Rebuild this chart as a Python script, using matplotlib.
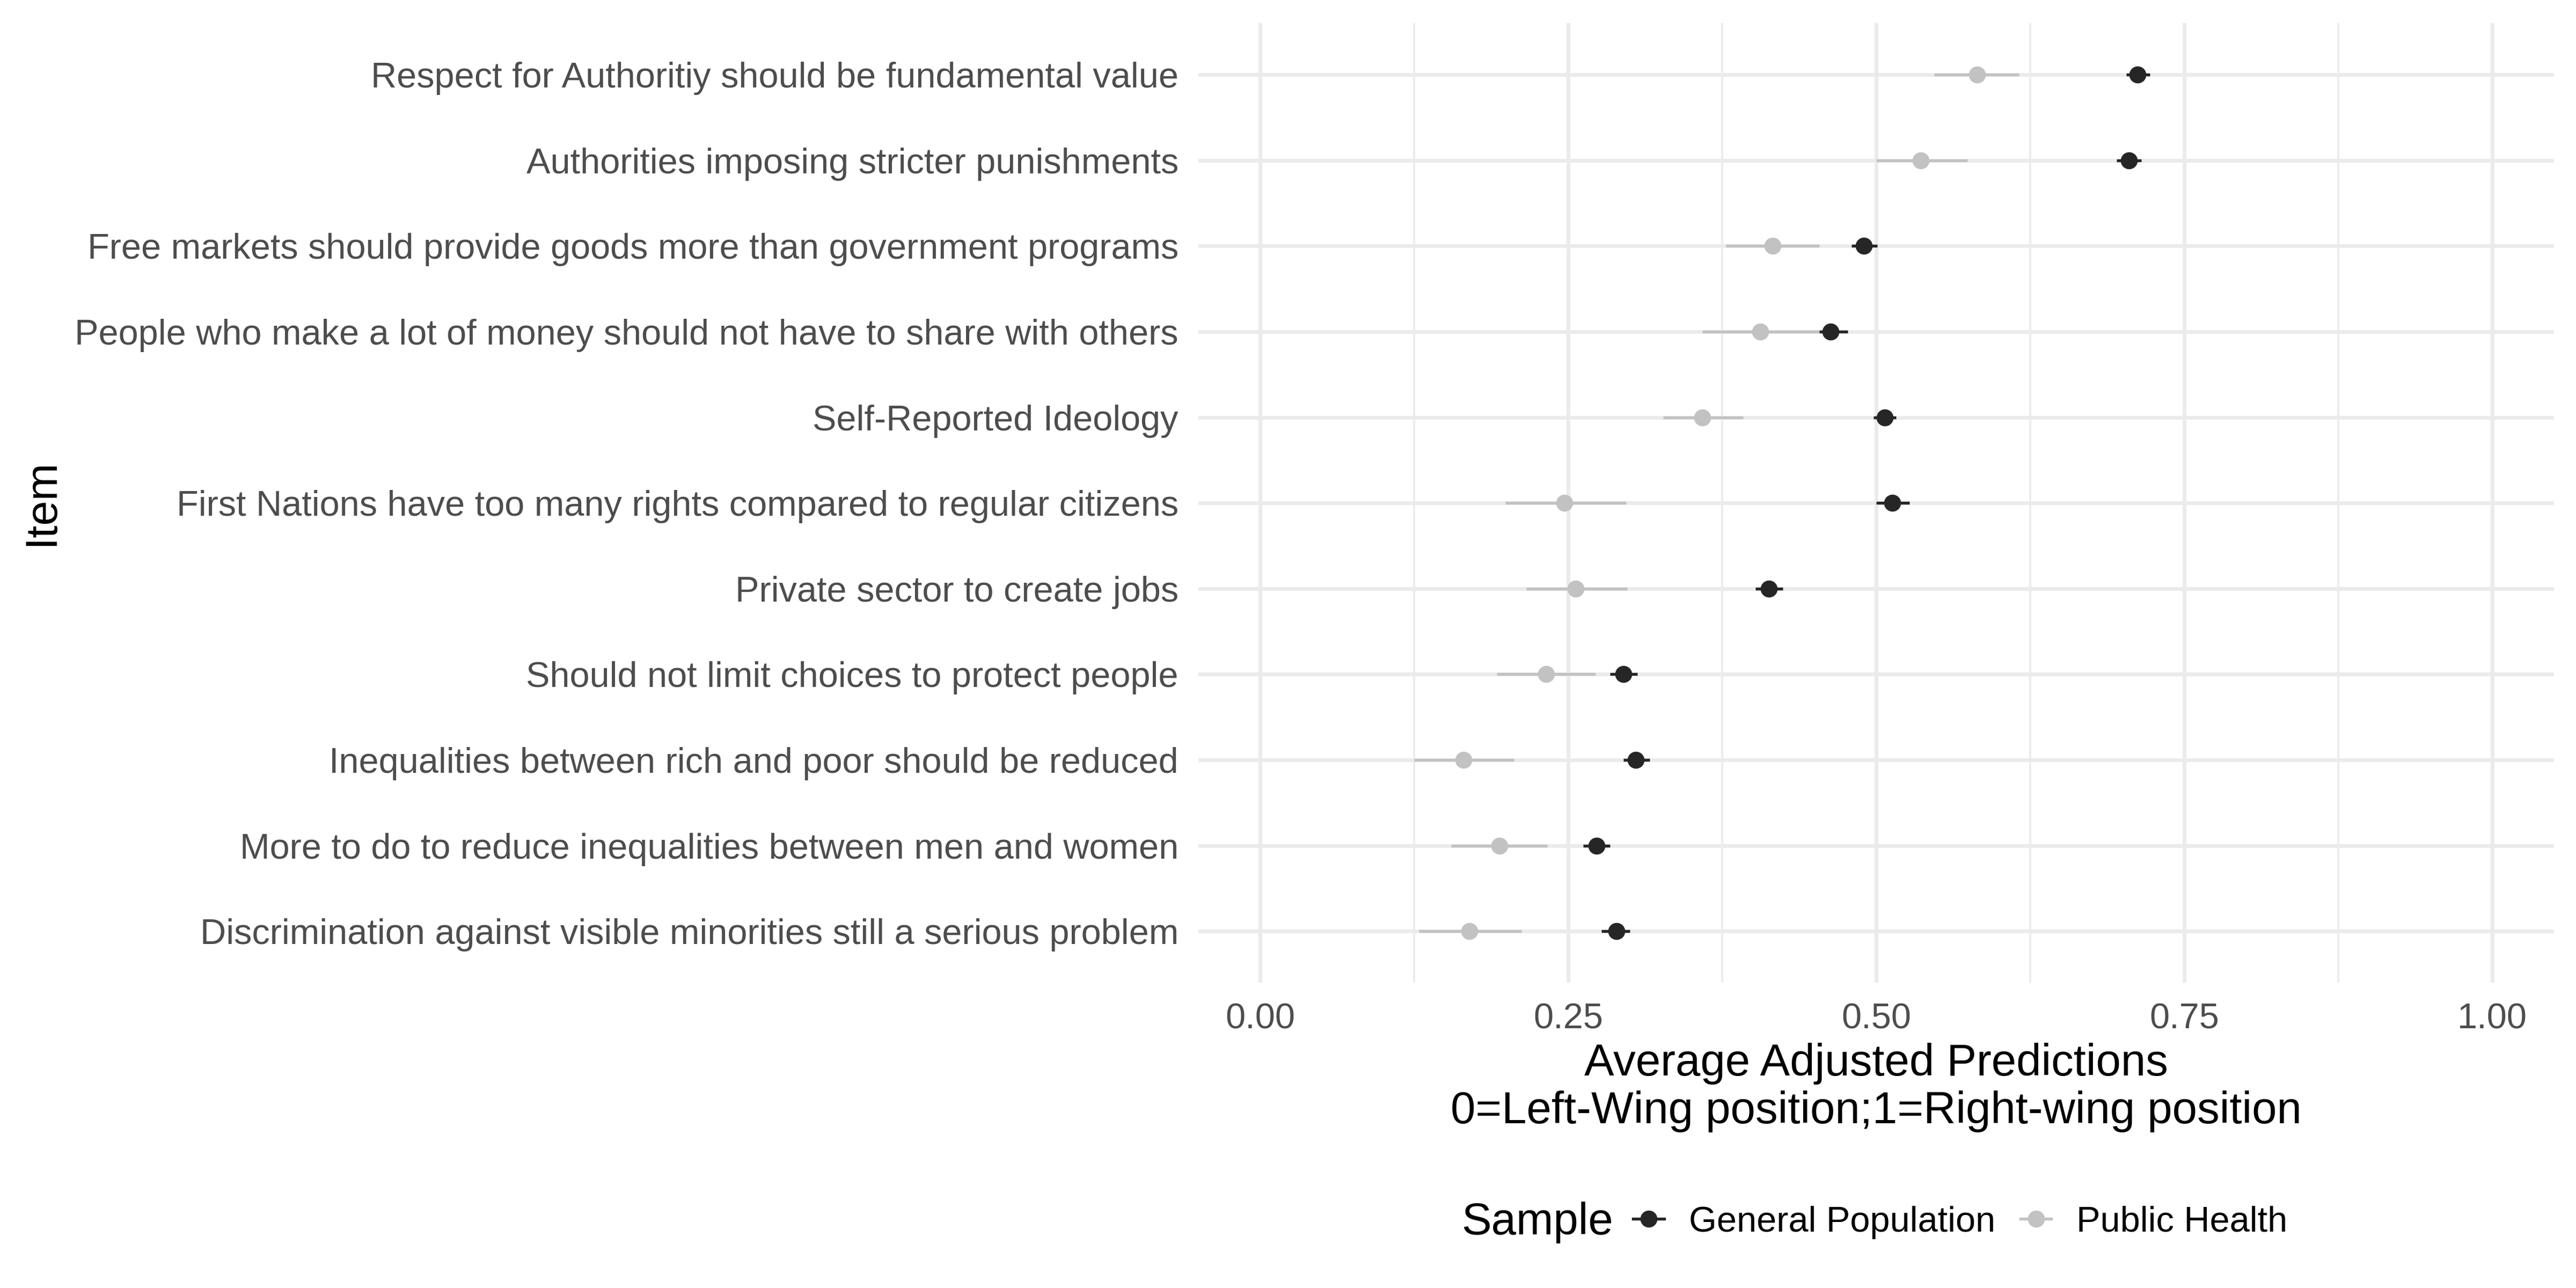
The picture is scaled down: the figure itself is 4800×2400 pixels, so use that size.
import matplotlib.pyplot as plt
from matplotlib.lines import Line2D
from matplotlib.ticker import MultipleLocator

plt.rcParams['font.family'] = ['Liberation Sans', 'DejaVu Sans']

items = [
    "Respect for Authoritiy should be fundamental value",
    "Authorities imposing stricter punishments",
    "Free markets should provide goods more than government programs",
    "People who make a lot of money should not have to share with others",
    "Self-Reported Ideology",
    "First Nations have too many rights compared to regular citizens",
    "Private sector to create jobs",
    "Should not limit choices to protect people",
    "Inequalities between rich and poor should be reduced",
    "More to do to reduce inequalities between men and women",
    "Discrimination against visible minorities still a serious problem",
]

# general population: estimate, lower, upper
gp_est = [0.712, 0.705, 0.490, 0.463, 0.507, 0.513, 0.413, 0.295, 0.305, 0.273, 0.289]
gp_low = [0.703, 0.695, 0.480, 0.454, 0.498, 0.500, 0.402, 0.284, 0.295, 0.262, 0.277]
gp_high = [0.722, 0.715, 0.501, 0.477, 0.516, 0.527, 0.424, 0.306, 0.316, 0.284, 0.300]

# public health sample
ph_est = [0.582, 0.536, 0.416, 0.406, 0.359, 0.247, 0.256, 0.232, 0.165, 0.194, 0.170]
ph_low = [0.547, 0.500, 0.378, 0.359, 0.327, 0.199, 0.216, 0.192, 0.125, 0.155, 0.129]
ph_high = [0.616, 0.574, 0.454, 0.454, 0.392, 0.297, 0.298, 0.272, 0.206, 0.233, 0.212]

x_ticks = [0.0, 0.25, 0.5, 0.75, 1.0]
x_ticklabels = ["0.00", "0.25", "0.50", "0.75", "1.00"]

gp_col = "#262626"
ph_col = "#C2C2C2"
grid_col = "#EBEBEB"
ms = 7.6

fig = plt.figure(figsize=(16, 8), dpi=300)
ax = fig.add_axes([0.4653, 0.237, 0.9914 - 0.4653, 0.982 - 0.237])

ypos = list(range(len(items)))

# grid
for y in ypos:
    ax.axhline(y, color=grid_col, lw=1.7, zorder=0)
ax.xaxis.set_minor_locator(MultipleLocator(0.125))
ax.grid(axis='x', which='major', color=grid_col, lw=1.7, zorder=0)
ax.grid(axis='x', which='minor', color=grid_col, lw=0.9, zorder=0)
ax.set_axisbelow(True)

for est, lo, hi, col in [(ph_est, ph_low, ph_high, ph_col), (gp_est, gp_low, gp_high, gp_col)]:
    ax.hlines(ypos, lo, hi, color=col, lw=1.3, zorder=2)
    ax.plot(est, ypos, 'o', color=col, ms=ms, mec='none', zorder=3)

ax.set_xlim(-0.05, 1.05)
ax.set_ylim(len(items) - 1 + 0.6, -0.6)
ax.set_xticks(x_ticks)
ax.set_xticklabels(x_ticklabels)
ax.set_yticks(ypos)
ax.set_yticklabels(items)
ax.tick_params(which='both', length=0, labelsize=16, labelcolor="#4D4D4D")
ax.tick_params(axis='y', pad=9)
ax.tick_params(axis='x', pad=9)
for s in ax.spines.values():
    s.set_visible(False)

# axis titles
fig.text(0.7283, 0.1556, "Average Adjusted Predictions\n0=Left-Wing position;1=Right-wing position",
         fontsize=20, ha='center', va='center', multialignment='center', linespacing=1.18)
fig.text(0.016, 0.61, "Item", fontsize=20, rotation=90, ha='center', va='center')

# legend
fig.text(0.5673, 0.051, "Sample", fontsize=20, va='center', ha='left')
handles = [
    Line2D([], [], color=gp_col, marker='o', ms=ms, mec='none', lw=1.3),
    Line2D([], [], color=ph_col, marker='o', ms=ms, mec='none', lw=1.3),
]
fig.legend(handles, ["General Population", "Public Health"], loc='center left',
           bbox_to_anchor=(0.634, 0.051), ncol=2, frameon=False, fontsize=16,
           handlelength=0.86, handletextpad=0.7, columnspacing=0.7,
           borderaxespad=0, borderpad=0)

fig.savefig("out.png", dpi=300)
